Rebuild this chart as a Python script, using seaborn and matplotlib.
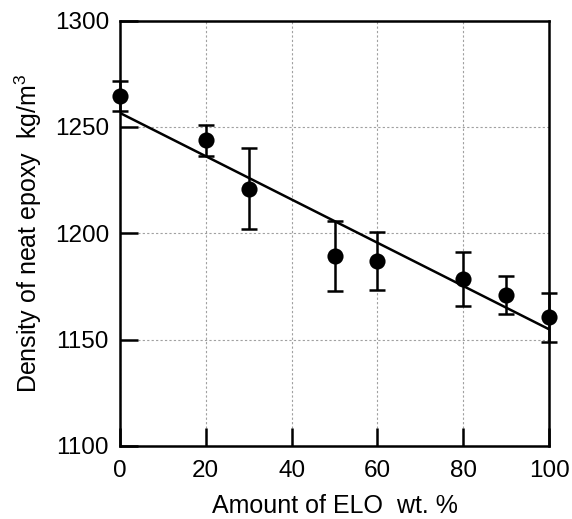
import numpy as np
import pandas as pd
import matplotlib
matplotlib.use("Agg")
import matplotlib.pyplot as plt
import seaborn as sns

# Measured density of neat epoxy vs. ELO content
elo_wt = [0, 20, 30, 50, 60, 80, 90, 100]
density = [1264.5, 1243.7, 1221.0, 1189.2, 1187.0, 1178.3, 1171.0, 1160.4]
density_err = [7.0, 7.2, 19.0, 16.5, 13.5, 12.7, 9.0, 11.5]

x_ticks = [0, 20, 40, 60, 80, 100]
y_ticks = [1100, 1150, 1200, 1250, 1300]

df = pd.DataFrame({"elo": elo_wt, "density": density, "err": density_err})

sns.set_style("white")
plt.rcParams["font.family"] = ["Liberation Sans", "DejaVu Sans"]
plt.rcParams["mathtext.fontset"] = "custom"
plt.rcParams["mathtext.rm"] = "Liberation Sans"
plt.rcParams["text.color"] = "black"
plt.rcParams["axes.labelcolor"] = "black"

fig = plt.figure(figsize=(5.72, 5.19), dpi=100)
ax = fig.add_axes([0.2098, 0.1407, 0.7500, 0.8198])

# least-squares line through the measurements
sns.regplot(data=df, x="elo", y="density", ax=ax, scatter=False, ci=None,
            truncate=True, line_kws=dict(color="black", lw=1.8, zorder=3))

ax.errorbar(df["elo"], df["density"], yerr=df["err"], fmt="none",
            ecolor="black", elinewidth=1.8, capsize=5.5, capthick=1.8,
            zorder=4, clip_on=False)
sns.scatterplot(data=df, x="elo", y="density", ax=ax, s=135, color="black",
                edgecolor="black", linewidth=0, zorder=5, clip_on=False)

ax.set_xlim(0, 100)
ax.set_ylim(1100, 1300)
ax.set_xticks(x_ticks)
ax.set_yticks(y_ticks)
ax.grid(True, color="#a0a0a0", linestyle=(0, (2, 2)), linewidth=0.8)
ax.set_axisbelow(True)

for s in ax.spines.values():
    s.set_visible(True)
    s.set_color("black")
    s.set_linewidth(1.8)

ax.tick_params(axis="both", which="major", bottom=True, left=True,
               top=False, right=False, direction="in", length=13, width=1.8,
               labelsize=17.5, color="black", labelcolor="black")
ax.tick_params(axis="x", pad=10)
ax.tick_params(axis="y", pad=8)

ax.set_xlabel("Amount of ELO  wt. %", fontsize=18, labelpad=9, color="black")
ax.set_ylabel("Density of neat epoxy  kg/m$^3$", fontsize=18, labelpad=8,
              color="black")

fig.savefig("out.png", dpi=100)
